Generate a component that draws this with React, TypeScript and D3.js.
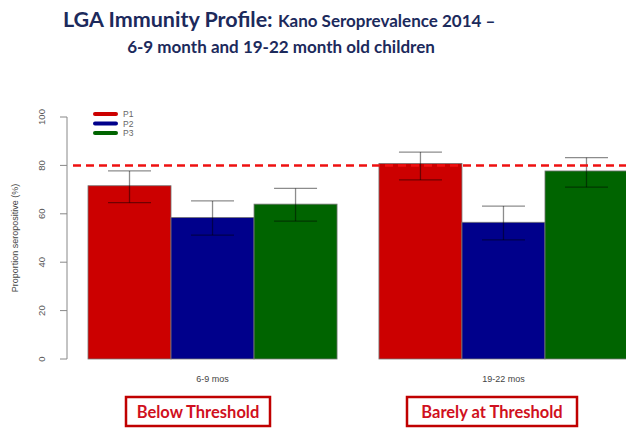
import React from "react";
import * as d3 from "d3";

const groups = ["6-9 mos", "19-22 mos"];
const series = ["P1", "P2", "P3"];
const colors = ["#cc0000", "#00008b", "#006400"];
// values[group][series]
const values = [
  [71.6, 58.5, 64],
  [80.8, 56.5, 77.7],
];
const errLow = [
  [64.6, 51.2, 57],
  [74, 49.2, 71],
];
const errHigh = [
  [77.7, 65.3, 70.5],
  [85.5, 63.2, 83.2],
];
const yTicks = [0, 20, 40, 60, 80, 100];
const threshold = 80;
const statusLabels = ["Below Threshold", "Barely at Threshold"];

const W = 626;
const H = 429;

export default function App() {
  const y = d3.scaleLinear().domain([0, 100]).range([359, 117]);
  const x0 = d3.scaleBand().domain(groups).range([88, 628]).paddingInner(0.144).paddingOuter(0);
  const x1 = d3.scaleBand().domain(series).range([0, x0.bandwidth()]).padding(0);
  const capHalf = 21.5;
  const axisX = 67;
  const errColor = "rgba(0,0,0,0.45)";

  return (
    <svg
      width={W}
      height={H}
      style={{ position: "fixed", left: 0, top: 0, background: "#fff" }}
    >
      {/* title */}
      <text x={63} y={27} fill="#1c2a5c" fontFamily="Lato, sans-serif" fontWeight="bold">
        <tspan fontSize={21.5}>LGA Immunity Profile: </tspan>
        <tspan fontSize={17}>Kano Seroprevalence 2014 –</tspan>
      </text>
      <text x={281} y={53} textAnchor="middle" fill="#1c2a5c" fontFamily="Lato, sans-serif" fontWeight="bold" fontSize={17}>
        6-9 month and 19-22 month old children
      </text>

      {/* bars */}
      {groups.map((g, gi) => (
        <g key={g} transform={`translate(${x0(g)},0)`}>
          {series.map((s, si) => (
            <rect
              key={s}
              x={x1(s)}
              y={y(values[gi][si])}
              width={x1.bandwidth()}
              height={y(0) - y(values[gi][si])}
              fill={colors[si]}
              stroke="#777"
              strokeWidth={0.8}
            />
          ))}
          {series.map((s, si) => {
            const cx = (x1(s) as number) + x1.bandwidth() / 2;
            return (
              <g key={s} stroke={errColor} strokeWidth={1.3}>
                <line x1={cx} x2={cx} y1={y(errLow[gi][si])} y2={y(errHigh[gi][si])} />
                <line x1={cx - capHalf} x2={cx + capHalf} y1={y(errLow[gi][si])} y2={y(errLow[gi][si])} />
                <line x1={cx - capHalf} x2={cx + capHalf} y1={y(errHigh[gi][si])} y2={y(errHigh[gi][si])} />
              </g>
            );
          })}
          <text
            x={x0.bandwidth() / 2}
            y={382}
            textAnchor="middle"
            fontFamily="Liberation Sans, Arial, sans-serif"
            fontSize={9}
            fill="#444"
          >
            {g}
          </text>
        </g>
      ))}

      {/* threshold */}
      <line x1={73} x2={W} y1={y(threshold)} y2={y(threshold)} stroke="#ee1111" strokeWidth={2.5} strokeDasharray="8,5" />

      {/* y axis */}
      <line x1={axisX} x2={axisX} y1={y(0)} y2={y(100)} stroke="#888" strokeWidth={1} />
      {yTicks.map((t) => (
        <g key={t}>
          <line x1={axisX - 7} x2={axisX} y1={y(t)} y2={y(t)} stroke="#888" />
          <text
            transform={`translate(${45},${y(t)}) rotate(-90)`}
            textAnchor="middle"
            fontFamily="Liberation Sans, Arial, sans-serif"
            fontSize={9.5}
            fill="#555"
          >
            {t}
          </text>
        </g>
      ))}
      <text
        transform={`translate(18,${238}) rotate(-90)`}
        textAnchor="middle"
        fontFamily="Liberation Sans, Arial, sans-serif"
        fontSize={9}
        fill="#444"
      >
        Proportion seropositive (%)
      </text>

      {/* legend */}
      {series.map((s, si) => (
        <g key={s} transform={`translate(0,${114 + si * 9.5})`}>
          <line x1={95} x2={116} y1={0} y2={0} stroke={colors[si]} strokeWidth={4} strokeLinecap="round" />
          <text x={123} y={3} fontFamily="Liberation Sans, Arial, sans-serif" fontSize={8.5} fill="#666">
            {s}
          </text>
        </g>
      ))}

      {/* status boxes */}
      {statusLabels.map((lab, i) => {
        const boxes = [
          [126, 270],
          [407, 577],
        ];
        const [bx0, bx1] = boxes[i];
        return (
          <g key={lab}>
            <rect x={bx0} y={397} width={bx1 - bx0} height={29} fill="#fff" stroke="#c00000" strokeWidth={2.5} />
            <text
              x={(bx0 + bx1) / 2}
              y={418}
              textAnchor="middle"
              fontFamily="Lato, sans-serif"
              fontWeight="bold"
              fontSize={16.5}
              fill="#d01020"
            >
              {lab}
            </text>
          </g>
        );
      })}
    </svg>
  );
}
